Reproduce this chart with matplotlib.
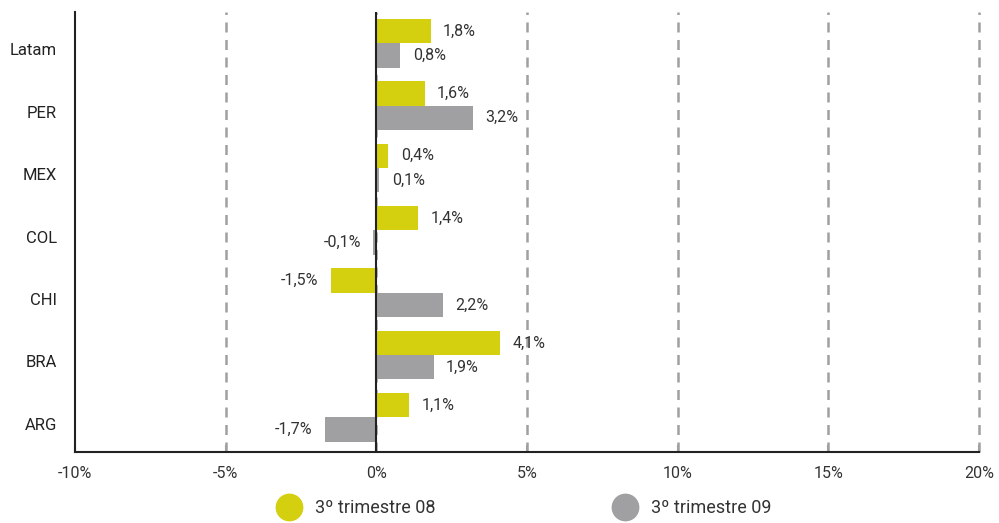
import numpy as np
import matplotlib.pyplot as plt
from matplotlib.lines import Line2D

plt.rcParams['font.family'] = ['Roboto', 'DejaVu Sans']

# data
countries = ['ARG', 'BRA', 'CHI', 'COL', 'MEX', 'PER', 'Latam']
q3_08 = [1.1, 4.1, -1.5, 1.4, 0.4, 1.6, 1.8]
q3_09 = [-1.7, 1.9, 2.2, -0.1, 0.1, 3.2, 0.8]
series_names = ['3º trimestre 08', '3º trimestre 09']
xticks = [-10, -5, 0, 5, 10, 15, 20]

yellow = '#d4d00f'
grey = '#a0a0a3'

fig, ax = plt.subplots(figsize=(9.99, 5.23), dpi=100)
fig.subplots_adjust(left=0.075, right=0.98, top=0.977, bottom=0.135)

y = np.arange(len(countries))
h = 0.39
ax.barh(y + h / 2, q3_08, height=h, color=yellow, zorder=3)
ax.barh(y - h / 2, q3_09, height=h, color=grey, zorder=3)

def fmt(v):
    return ('%.1f%%' % v).replace('.', ',')

for vals, off in ((q3_08, h / 2), (q3_09, -h / 2)):
    for yi, v in zip(y, vals):
        if v >= 0:
            ax.annotate(fmt(v), (v, yi + off), xytext=(9, 0), textcoords='offset points',
                        ha='left', va='center', fontsize=11.5, color='#333333', zorder=4)
        else:
            ax.annotate(fmt(v), (v, yi + off), xytext=(-9, 0), textcoords='offset points',
                        ha='right', va='center', fontsize=11.5, color='#333333', zorder=4)

# grid lines
for t in xticks[1:]:
    ax.axvline(t, color='#a0a0a0', lw=1.8, ls=(0, (4, 3)), zorder=1, clip_on=False)
ax.axvline(0, color='#222222', lw=1.5, zorder=4)

ax.set_xlim(-10, 20)
ax.set_ylim(-0.56, 6.50)
ax.set_xticks(xticks)
ax.set_xticklabels(['%d%%' % t for t in xticks], fontsize=11.5, color='#333333')
ax.set_yticks(y - 0.1)
ax.set_yticklabels(countries, fontsize=12, color='#222222')
ax.tick_params(axis='y', length=0, pad=13)
ax.tick_params(axis='x', length=5, direction='in', color='#a0a0a0', width=1.5, pad=10)

for s in ('top', 'right'):
    ax.spines[s].set_visible(False)
ax.spines['left'].set_color('#222222')
ax.spines['left'].set_linewidth(1.5)
ax.spines['bottom'].set_color('#222222')
ax.spines['bottom'].set_linewidth(1.5)

handles = [Line2D([], [], ls='none', marker='o', markersize=19, color=c) for c in (yellow, grey)]
fig.legend(handles, series_names, loc='center', bbox_to_anchor=(0.522, 0.029), ncol=2,
           frameon=False, fontsize=13, columnspacing=9.5, handletextpad=0.45,
           labelcolor='#333333')

fig.savefig('out.png', dpi=100)
